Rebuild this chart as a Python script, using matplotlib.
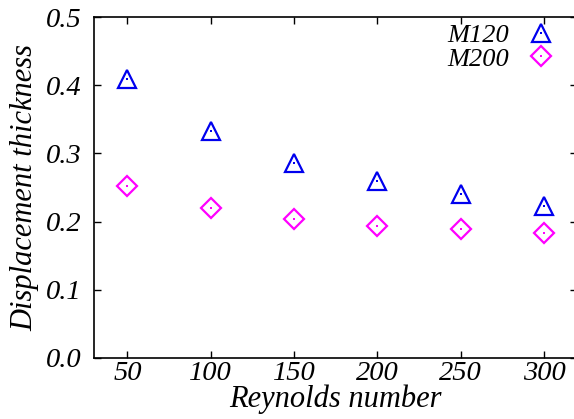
import matplotlib.pyplot as plt

# Displacement thickness vs Reynolds number for the two meshes
reynolds = [50, 100, 150, 200, 250, 300]
m120 = [0.409, 0.333, 0.286, 0.259, 0.241, 0.223]
m200 = [0.252, 0.220, 0.204, 0.194, 0.189, 0.183]

plt.rcParams['font.family'] = 'Liberation Serif'
plt.rcParams['font.style'] = 'italic'

fig = plt.figure(figsize=(5.74, 4.19), dpi=100)
ax = fig.add_axes([0.164, 0.1456, 0.842, 0.8138])

# open markers with a small dot in the middle
t1, = ax.plot(reynolds, m120, linestyle='none', marker='^', markersize=13,
              markerfacecolor='none', markeredgecolor='#0000ee', markeredgewidth=1.6)
d1, = ax.plot(reynolds, m120, linestyle='none', marker='s', markersize=1.6,
              color='#0000ee', markeredgewidth=0)
t2, = ax.plot(reynolds, m200, linestyle='none', marker='D', markersize=10.5,
              markerfacecolor='none', markeredgecolor='#ff00ff', markeredgewidth=1.6)
d2, = ax.plot(reynolds, m200, linestyle='none', marker='s', markersize=1.6,
              color='#ff00ff', markeredgewidth=0)

ax.set_xlim(30, 320)
ax.set_ylim(0, 0.5)
ax.set_xticks(reynolds)
ax.set_yticks([0.0, 0.1, 0.2, 0.3, 0.4, 0.5])
ax.set_yticklabels(['0.0', '0.1', '0.2', '0.3', '0.4', '0.5'])

ax.tick_params(direction='in', length=5, width=1, top=True, right=True,
               labelsize=20.5)
ax.tick_params(axis='x', pad=2)
ax.tick_params(axis='y', pad=9)
for s in ax.spines.values():
    s.set_linewidth(1.2)
ax.spines['right'].set_visible(False)

ax.set_xlabel('Reynolds number', fontsize=22, labelpad=-1)
ax.set_ylabel('Displacement thickness', fontsize=22, labelpad=5)

ax.legend([(t1, d1), (t2, d2)], ['M120', 'M200'], loc='upper right',
          bbox_to_anchor=(1.006, 1.05), frameon=False, markerfirst=False,
          fontsize=19, handlelength=1.2, handletextpad=0.6, labelspacing=0.0)

fig.savefig('out.png', dpi=100)
